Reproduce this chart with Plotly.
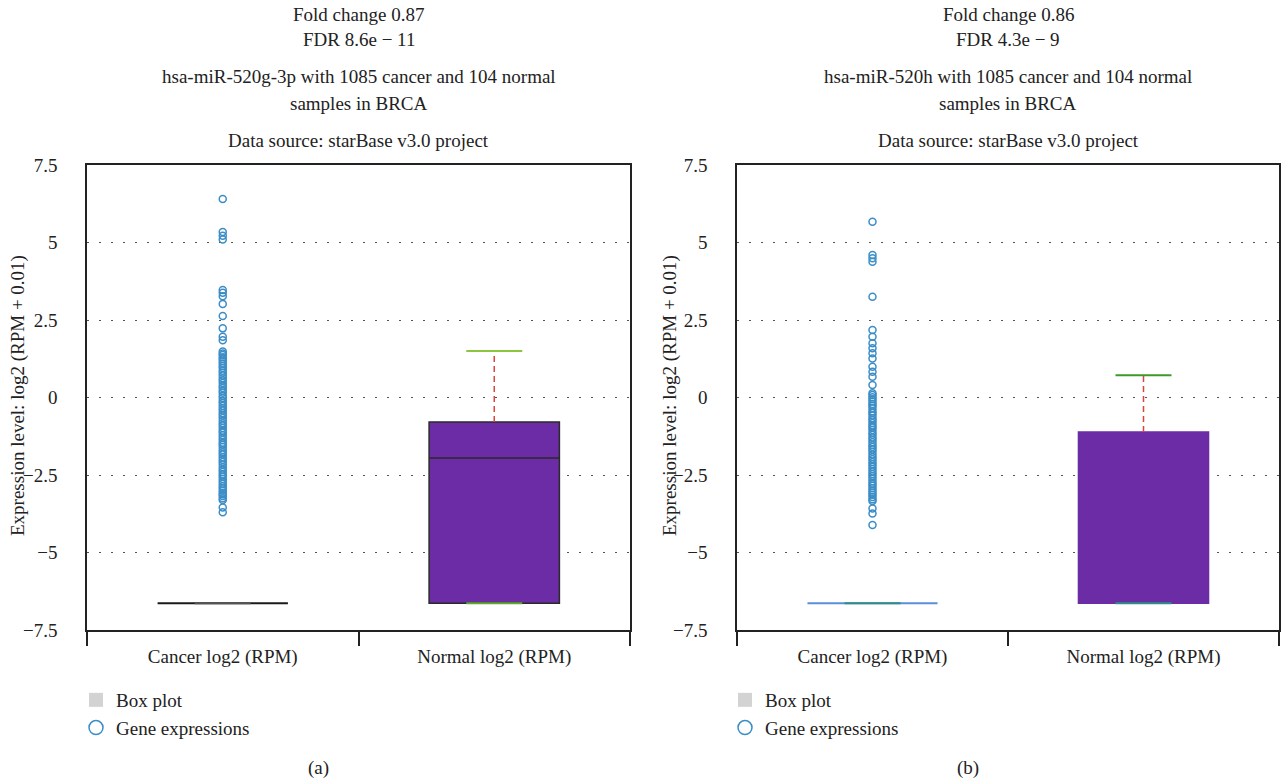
import plotly.graph_objects as go

# ---- data -------------------------------------------------------------
categories = ["Cancer log2 (RPM)", "Normal log2 (RPM)"]

# panel (a): hsa-miR-520g-3p
a_title = ["Fold change 0.87", "FDR 8.6e − 11",
           "hsa-miR-520g-3p with 1085 cancer and 104 normal", "samples in BRCA",
           "Data source: starBase v3.0 project"]
a_cancer_stats = dict(q1=-6.64, median=-6.64, q3=-6.64, lower=-6.64, upper=-6.64)
a_normal_stats = dict(q1=-6.64, median=-1.95, q3=-0.79, lower=-6.64, upper=1.50)
a_cancer_points = [
    6.40, 5.34, 5.22, 5.10, 3.47, 3.38, 3.27, 3.02, 2.63, 2.23, 1.96, 1.85,
    1.48, 1.42, 1.37, 1.30, 1.24, 1.17, 1.10, 1.02, 0.95, 0.86, 0.80, 0.71,
    0.62, 0.55, 0.47, 0.38, 0.31, 0.22, 0.15, 0.06, -0.02, -0.11, -0.18, -0.27,
    -0.35, -0.42, -0.51, -0.58, -0.66, -0.75, -0.83, -0.90, -0.98, -1.07, -1.13,
    -1.22, -1.30, -1.37, -1.46, -1.52, -1.60, -1.69, -1.77, -1.84, -1.93, -2.01,
    -2.08, -2.16, -2.25, -2.33, -2.40, -2.48, -2.55, -2.63, -2.71, -2.78, -2.86,
    -2.93, -3.00, -3.07, -3.12, -3.18, -3.25, -3.31, -3.55, -3.70,
]

# panel (b): hsa-miR-520h
b_title = ["Fold change 0.86", "FDR 4.3e − 9",
           "hsa-miR-520h with 1085 cancer and 104 normal", "samples in BRCA",
           "Data source: starBase v3.0 project"]
b_cancer_stats = dict(q1=-6.64, median=-6.64, q3=-6.64, lower=-6.64, upper=-6.64)
b_normal_stats = dict(q1=-6.64, median=-6.64, q3=-1.11, lower=-6.64, upper=0.72)
b_cancer_points = [
    5.67, 4.60, 4.49, 4.38, 3.25, 2.18, 1.96, 1.75, 1.59, 1.43, 1.26, 0.99,
    0.83, 0.67, 0.40, 0.14, 0.08, 0.01, -0.06, -0.13, -0.21, -0.27, -0.35,
    -0.44, -0.50, -0.58, -0.67, -0.73, -0.82, -0.90, -0.97, -1.05, -1.14, -1.20,
    -1.29, -1.36, -1.44, -1.53, -1.60, -1.68, -1.75, -1.84, -1.92, -1.99, -2.08,
    -2.15, -2.23, -2.31, -2.39, -2.47, -2.54, -2.62, -2.70, -2.78, -2.85, -2.93,
    -3.00, -3.07, -3.14, -3.21, -3.28, -3.34, -3.58, -3.74, -4.11,
]

y_tickvals = [7.5, 5, 2.5, 0, -2.5, -5, -7.5]
y_ticktext = ["7.5", "5", "2.5", "0", "−2.5", "−5", "−7.5"]

# ---- style ------------------------------------------------------------
FONT = "'Times New Roman', 'Liberation Serif', 'DejaVu Serif', serif"
TXT = "#222222"
PURPLE = "#6b2ca5"
POINT_BLUE = "#3b8dc7"
W, H = 1284, 784

fig = go.Figure()


def add_panel(xa, ya, legend, cancer, normal, points, colors):
    # cancer box (collapsed at the detection floor)
    fig.add_trace(go.Box(
        x=[categories[0]], q1=[cancer["q1"]], median=[cancer["median"]],
        q3=[cancer["q3"]], lowerfence=[cancer["q1"]], upperfence=[cancer["q3"]],
        width=0.48, whiskerwidth=0, fillcolor="rgba(0,0,0,0)",
        line=dict(color=colors["cancer_line"], width=2),
        boxpoints=False, hoverinfo="skip", showlegend=False,
        xaxis=xa, yaxis=ya))
    # cancer whisker cap
    fig.add_trace(go.Scatter(
        x=[categories[0]], y=[cancer["lower"]], mode="markers",
        marker=dict(symbol="line-ew", size=40,
                    line=dict(color=colors["cancer_cap"], width=2)),
        hoverinfo="skip", showlegend=False, xaxis=xa, yaxis=ya))

    # normal box
    fig.add_trace(go.Box(
        x=[categories[1]], q1=[normal["q1"]], median=[normal["median"]],
        q3=[normal["q3"]], lowerfence=[normal["q1"]], upperfence=[normal["q3"]],
        width=0.48, whiskerwidth=0, fillcolor=PURPLE,
        line=dict(color=colors["normal_line"], width=1.5),
        boxpoints=False, hoverinfo="skip", showlegend=False,
        xaxis=xa, yaxis=ya))
    # upper whisker (dashed)
    fig.add_trace(go.Scatter(
        x=[categories[1], categories[1]], y=[normal["q3"], normal["upper"]],
        mode="lines", line=dict(color="#d9453d", width=1.5, dash="6px,4px"),
        hoverinfo="skip", showlegend=False, xaxis=xa, yaxis=ya))
    # whisker caps
    fig.add_trace(go.Scatter(
        x=[categories[1]], y=[normal["upper"]], mode="markers",
        marker=dict(symbol="line-ew", size=40,
                    line=dict(color=colors["upper_cap"], width=2)),
        hoverinfo="skip", showlegend=False, xaxis=xa, yaxis=ya))
    fig.add_trace(go.Scatter(
        x=[categories[1]], y=[normal["lower"]], mode="markers",
        marker=dict(symbol="line-ew", size=40,
                    line=dict(color=colors["lower_cap"], width=2)),
        hoverinfo="skip", showlegend=False, xaxis=xa, yaxis=ya))

    # individual expression values above the floor
    fig.add_trace(go.Scatter(
        x=[categories[0]] * len(points), y=points, mode="markers",
        marker=dict(symbol="circle-open", size=7,
                    line=dict(color=POINT_BLUE, width=1.5), color=POINT_BLUE),
        hoverinfo="skip", showlegend=False, xaxis=xa, yaxis=ya))

    # legend entries
    fig.add_trace(go.Scatter(
        x=[None], y=[None], mode="markers", name="Box plot",
        marker=dict(symbol="square", size=14, color="#d3d3d3"),
        legend=legend, xaxis=xa, yaxis=ya))
    fig.add_trace(go.Scatter(
        x=[None], y=[None], mode="markers", name="Gene expressions",
        marker=dict(symbol="circle-open", size=14, color=POINT_BLUE,
                    line=dict(color=POINT_BLUE, width=1.5)),
        legend=legend, xaxis=xa, yaxis=ya))


add_panel("x", "y", "legend", a_cancer_stats, a_normal_stats, a_cancer_points,
          dict(cancer_line="#1a1a1a", cancer_cap="#555555", normal_line="#2a2a2a",
               upper_cap="#8cc63f", lower_cap="#5fa82a"))
add_panel("x2", "y2", "legend2", b_cancer_stats, b_normal_stats, b_cancer_points,
          dict(cancer_line="#5b8fd6", cancer_cap="#2f8f86", normal_line=PURPLE,
               upper_cap="#3f9a2e", lower_cap="#2f8f86"))

# ---- axes -------------------------------------------------------------
y_dom = [1 - 630 / H, 1 - 165 / H]
xa_dom = [87 / W, 630 / W]
xb_dom = [737 / W, 1279 / W]

xaxis_common = dict(
    type="category", categoryorder="array", categoryarray=categories,
    range=[-0.5, 1.5], tickson="boundaries", ticks="outside", ticklen=14,
    tickwidth=1.5, tickcolor=TXT, ticklabelstandoff=8, showline=True,
    linecolor=TXT, linewidth=1.5, mirror=True, showgrid=False, zeroline=False,
    tickfont=dict(family=FONT, size=19, color=TXT), fixedrange=True)
yaxis_common = dict(
    range=[-7.5, 7.5], tickvals=y_tickvals, ticktext=y_ticktext,
    ticks="", ticklabelstandoff=24, showline=True, linecolor=TXT,
    linewidth=1.5, mirror=True, showgrid=True, gridcolor="#555",
    gridwidth=1.2, griddash="1.5px,10.5px", zeroline=False,
    tickfont=dict(family=FONT, size=19, color=TXT), fixedrange=True)

legend_common = dict(
    xref="container", yref="container", xanchor="left", yanchor="top",
    font=dict(family=FONT, size=19, color=TXT),
    bgcolor="rgba(0,0,0,0)", tracegroupgap=0)

fig.update_layout(
    width=W, height=H,
    margin=dict(l=0, r=0, t=0, b=0, autoexpand=False),
    paper_bgcolor="white", plot_bgcolor="white",
    font=dict(family=FONT, size=19, color=TXT),
    xaxis=dict(domain=xa_dom, anchor="y", **xaxis_common),
    yaxis=dict(domain=y_dom, anchor="x", **yaxis_common),
    xaxis2=dict(domain=xb_dom, anchor="y2", **xaxis_common),
    yaxis2=dict(domain=y_dom, anchor="x2", **yaxis_common),
    legend=dict(x=76 / W, y=1 - 681 / H, **legend_common),
    legend2=dict(x=725 / W, y=1 - 681 / H, **legend_common),
    showlegend=True,
)

# ---- titles and labels -------------------------------------------------
line_y = [14, 40, 77, 103, 140]
annotations = []
for lines, cx in ((a_title, (87 + 630) / 2), (b_title, (737 + 1279) / 2)):
    for txt, py in zip(lines, line_y):
        annotations.append(dict(
            text=txt, x=cx / W, y=1 - py / H, xref="paper", yref="paper",
            xanchor="center", yanchor="middle", showarrow=False,
            font=dict(family=FONT, size=19, color=TXT)))

for cx in (18, 670):
    annotations.append(dict(
        text="Expression level: log2 (RPM + 0.01)", x=cx / W, y=1 - 396 / H,
        xref="paper", yref="paper", xanchor="center", yanchor="middle",
        textangle=-90, showarrow=False,
        font=dict(family=FONT, size=19, color=TXT)))

for txt, cx in (("(a)", 318), ("(b)", 968)):
    annotations.append(dict(
        text=txt, x=cx / W, y=1 - 768 / H, xref="paper", yref="paper",
        xanchor="center", yanchor="middle", showarrow=False,
        font=dict(family=FONT, size=19, color=TXT)))

fig.update_layout(annotations=annotations)

fig.write_html("out.html")
